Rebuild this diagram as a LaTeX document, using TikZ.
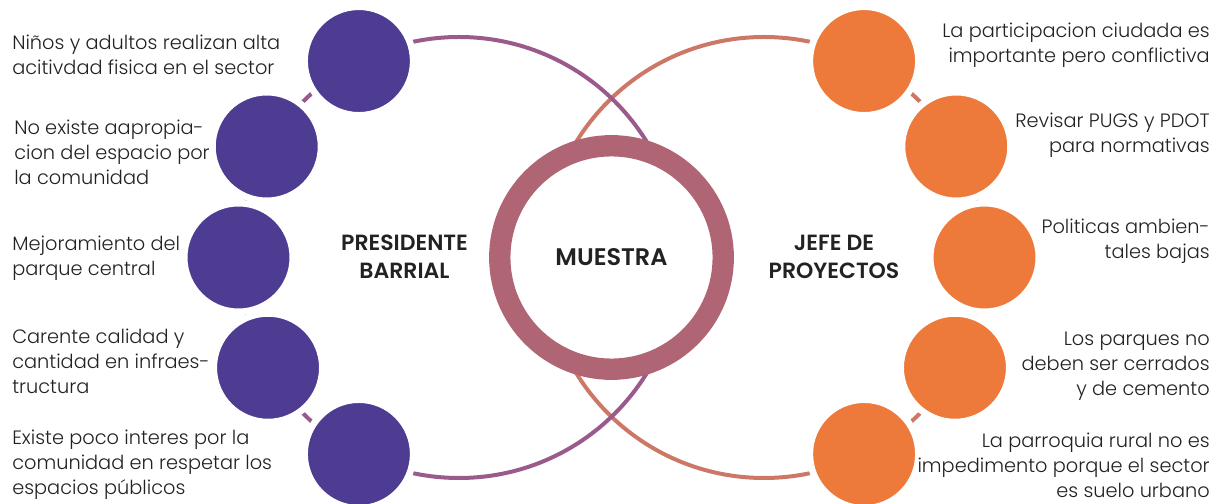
\documentclass[tikz,border=0pt]{standalone}
\usepackage{fontspec}
\setmainfont{Poppins}[UprightFont=* Light,BoldFont=* SemiBold]
\usetikzlibrary{positioning}
\definecolor{purp}{HTML}{4E3B92}
\definecolor{orng}{HTML}{ED7A3A}
\definecolor{lineL}{HTML}{9B5A8C}
\definecolor{lineR}{HTML}{CD7767}
\definecolor{ringc}{HTML}{B06574}
\definecolor{ink}{HTML}{222222}

\begin{document}
\begin{tikzpicture}[x=0.75pt,y=0.75pt,
  dot/.style={circle,minimum size=81.5pt,inner sep=0pt,draw=white,line width=5pt},
  dotL/.style={dot,fill=purp},
  dotR/.style={dot,fill=orng},
  txtL/.style={align=left,anchor=west,inner sep=0pt,text=ink,font=\fontsize{14.5}{18.75}\selectfont},
  txtR/.style={txtL,align=right,anchor=east},
  head/.style={align=center,inner sep=0pt,text=ink,font=\bfseries\fontsize{16.5}{21}\selectfont}]
\useasboundingbox (0,0) rectangle (1216,503);
\coordinate (lc) at (459,245.5);
\coordinate (rc) at (764,245.5);
% big circles
\draw[lineR,line width=3pt] (rc) circle[radius=220.5];
\draw[lineL,line width=3pt] (lc) circle[radius=220.5];
\node[circle,minimum size=167.6pt,inner sep=0pt,fill=white,draw=ringc,line width=16pt] (muestra) at (611.5,245.5) {};
\node[head,font=\bfseries\fontsize{18}{22}\selectfont] at (muestra) {MUESTRA};
% presidente barrial
\node[dotL] (p1) at ([shift={(117:220.5)}]lc) {};
\node[dotL] (p2) at ([shift={(150:222)}]lc) {};
\node[dotL] (p3) at ([shift={(180:220.5)}]lc) {};
\node[dotL] (p4) at ([shift={(210:220.5)}]lc) {};
\node[dotL] (p5) at ([shift={(243:220.5)}]lc) {};
% jefe de proyectos
\node[dotR] (j1) at ([shift={(63:220.5)}]rc) {};
\node[dotR] (j2) at ([shift={(30:222)}]rc) {};
\node[dotR] (j3) at ([shift={(0:220.5)}]rc) {};
\node[dotR] (j4) at ([shift={(-30:220.5)}]rc) {};
\node[dotR] (j5) at ([shift={(-63:220.5)}]rc) {};
\node[head] (pres) at (404.5,246) {PRESIDENTE\\BARRIAL};
\node[head] (jefe) at (834,246) {JEFE DE\\PROYECTOS};
% labels
\node[txtL] (tp1) at (12,448) {Niños y adultos realizan alta\\acitivdad fisica en el sector};
\node[txtL] (tp2) at (14,351) {No existe aapropia-\\cion del espacio por\\la comunidad};
\node[txtL] (tp3) at (12,245) {Mejoramiento del\\parque central};
\node[txtL] (tp4) at (12,142) {Carente calidad y\\cantidad en infraes-\\tructura};
\node[txtL] (tp5) at (12,38) {Existe poco interes por la\\comunidad en respetar los\\espacios públicos};
\node[txtR] (tj1) at (1210,458) {La participacion ciudada es\\importante pero conflictiva};
\node[txtR] (tj2) at (1210,368) {Revisar PUGS y PDOT\\para normativas};
\node[txtR] (tj3) at (1210,262) {Politicas ambien-\\tales bajas};
\node[txtR] (tj4) at (1210,137) {Los parques no\\deben ser cerrados\\y de cemento};
\node[txtR] (tj5) at (1210,38) {La parroquia rural no es\\impedimento porque el sector\\es suelo urbano};
\end{tikzpicture}
\end{document}
